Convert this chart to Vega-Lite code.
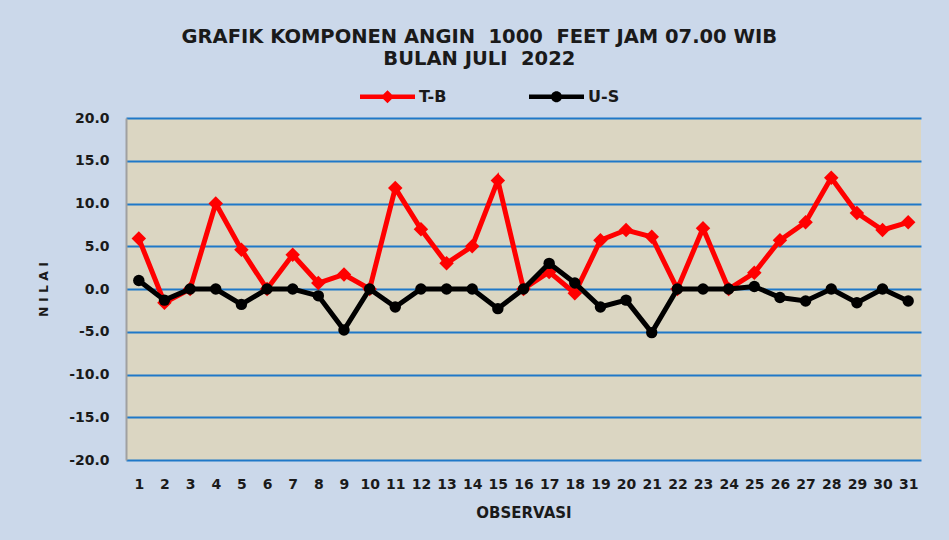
{
  "$schema": "https://vega.github.io/schema/vega-lite/v6.json",
  "width": 795,
  "height": 342,
  "autosize": {"type": "none"},
  "padding": {"left": 126, "top": 118, "right": 28, "bottom": 80},
  "background": "#cbd8ea",
  "title": {
    "text": ["GRAFIK KOMPONEN ANGIN\u00a0\u00a01000\u00a0\u00a0FEET JAM 07.00 WIB", "BULAN JULI\u00a0\u00a02022"],
    "font": "DejaVu Sans",
    "fontSize": 19.5,
    "fontWeight": "bold",
    "color": "#1a1a1a",
    "lineHeight": 22,
    "anchor": "middle",
    "frame": "bounds",
    "offset": 0
  },
  "config": {
    "view": {"fill": "#dbd6c2", "stroke": null},
    "axis": {
      "labelFont": "DejaVu Sans",
      "labelFontWeight": "bold",
      "labelColor": "#1a1a1a",
      "titleFont": "DejaVu Sans",
      "titleFontWeight": "bold",
      "titleColor": "#1a1a1a",
      "ticks": false
    }
  },
  "datasets": {
    "obs": [
      {"obs": 1, "TB": 5.9, "US": 1.0},
      {"obs": 2, "TB": -1.6, "US": -1.3},
      {"obs": 3, "TB": 0.0, "US": 0.0},
      {"obs": 4, "TB": 10.0, "US": 0.0},
      {"obs": 5, "TB": 4.6, "US": -1.8},
      {"obs": 6, "TB": 0.0, "US": 0.0},
      {"obs": 7, "TB": 4.0, "US": 0.0},
      {"obs": 8, "TB": 0.7, "US": -0.8},
      {"obs": 9, "TB": 1.7, "US": -4.8},
      {"obs": 10, "TB": 0.0, "US": 0.0},
      {"obs": 11, "TB": 11.8, "US": -2.1},
      {"obs": 12, "TB": 7.0, "US": 0.0},
      {"obs": 13, "TB": 3.0, "US": 0.0},
      {"obs": 14, "TB": 5.0, "US": 0.0},
      {"obs": 15, "TB": 12.7, "US": -2.3},
      {"obs": 16, "TB": 0.0, "US": 0.0},
      {"obs": 17, "TB": 2.0, "US": 3.0},
      {"obs": 18, "TB": -0.5, "US": 0.7},
      {"obs": 19, "TB": 5.7, "US": -2.1},
      {"obs": 20, "TB": 6.9, "US": -1.3},
      {"obs": 21, "TB": 6.1, "US": -5.1},
      {"obs": 22, "TB": 0.0, "US": 0.0},
      {"obs": 23, "TB": 7.1, "US": 0.0},
      {"obs": 24, "TB": 0.0, "US": 0.0},
      {"obs": 25, "TB": 1.9, "US": 0.3},
      {"obs": 26, "TB": 5.7, "US": -1.0},
      {"obs": 27, "TB": 7.8, "US": -1.4},
      {"obs": 28, "TB": 13.0, "US": 0.0},
      {"obs": 29, "TB": 8.9, "US": -1.6},
      {"obs": 30, "TB": 6.9, "US": 0.0},
      {"obs": 31, "TB": 7.8, "US": -1.4}
    ],
    "series": [{"series": "T-B"}, {"series": "U-S"}]
  },
  "data": {"name": "obs"},
  "encoding": {
    "x": {
      "field": "obs",
      "type": "ordinal",
      "axis": {
        "title": "OBSERVASI",
        "labelAngle": 0,
        "labelFontSize": 14,
        "labelPadding": 17,
        "titleFontSize": 15,
        "titlePadding": 14,
        "domain": false,
        "grid": false
      }
    }
  },
  "layer": [
    {
      "mark": {"type": "line", "color": "#ff0000", "strokeWidth": 5},
      "encoding": {
        "y": {
          "field": "TB",
          "type": "quantitative",
          "scale": {"domain": [-20, 20], "nice": false},
          "axis": {
            "title": "N I L A I",
            "values": [-20, -15, -10, -5, 0, 5, 10, 15, 20],
            "format": ".1f",
            "labelExpr": "replace(datum.label, '\u2212', '-')",
            "labelFontSize": 14,
            "labelPadding": 17,
            "titleFontSize": 12.5,
            "titlePadding": 18,
            "domain": true,
            "domainColor": "#a0a0a0",
            "domainWidth": 2,
            "grid": true,
            "gridColor": "#1f78c8",
            "gridWidth": 2
          }
        }
      }
    },
    {
      "mark": {"type": "point", "shape": "diamond", "filled": true, "color": "#ff0000", "size": 210, "opacity": 1},
      "encoding": {"y": {"field": "TB", "type": "quantitative"}}
    },
    {
      "mark": {"type": "line", "color": "#000000", "strokeWidth": 5},
      "encoding": {"y": {"field": "US", "type": "quantitative"}}
    },
    {
      "mark": {"type": "point", "shape": "circle", "filled": true, "color": "#000000", "size": 130, "opacity": 1},
      "encoding": {"y": {"field": "US", "type": "quantitative"}}
    },
    {
      "data": {"name": "series"},
      "mark": {"type": "point", "filled": true, "opacity": 0},
      "encoding": {
        "x": {"value": 0},
        "y": {"value": 0},
        "color": {
          "field": "series",
          "type": "nominal",
          "scale": {"domain": ["T-B", "U-S"], "range": ["#ff0000", "#000000"]},
          "legend": {
            "title": null,
            "orient": "none",
            "legendX": 234,
            "legendY": -49,
            "direction": "horizontal",
            "symbolSize": 3025,
            "symbolStrokeWidth": 0,
            "symbolOpacity": 1,
            "labelFont": "DejaVu Sans",
            "labelFontSize": 16,
            "labelFontWeight": "bold",
            "labelColor": "#1a1a1a",
            "labelOffset": 4,
            "columnPadding": 82
          }
        },
        "shape": {
          "field": "series",
          "type": "nominal",
          "scale": {
            "domain": ["T-B", "U-S"],
            "range": [
              "M-1,-0.08H1V0.08H-1Z M0,-0.24L0.24,0L0,0.24L-0.24,0Z",
              "M-1,-0.08H1V0.08H-1Z M-0.2,0A0.2,0.2 0 1,1 0.2,0A0.2,0.2 0 1,1 -0.2,0Z"
            ]
          },
          "legend": {
            "title": null,
            "orient": "none",
            "legendX": 234,
            "legendY": -49,
            "direction": "horizontal",
            "symbolSize": 3025,
            "symbolStrokeWidth": 0,
            "symbolOpacity": 1,
            "labelFont": "DejaVu Sans",
            "labelFontSize": 16,
            "labelFontWeight": "bold",
            "labelColor": "#1a1a1a",
            "labelOffset": 4,
            "columnPadding": 82
          }
        }
      }
    }
  ]
}
